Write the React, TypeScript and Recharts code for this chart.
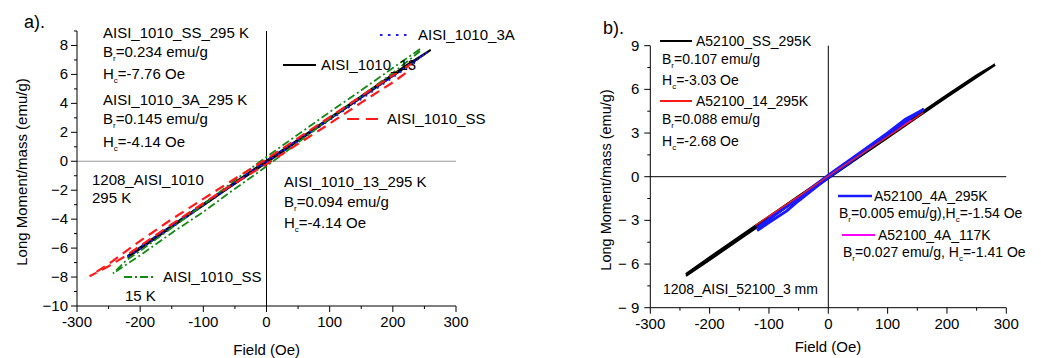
import { LineChart, Line, XAxis, YAxis, ReferenceLine } from "recharts";

// ---- panel a) AISI 1010 ----
const fieldTicks = [-300, -250, -200, -150, -100, -50, 0, 50, 100, 150, 200, 250, 300];
const aTicks = [-10, -9, -8, -7, -6, -5, -4, -3, -2, -1, 0, 1, 2, 3, 4, 5, 6, 7, 8, 9];
const bTicks = [-9, -7.5, -6, -4.5, -3, -1.5, 0, 1.5, 3, 4.5, 6, 7.5, 9];

const a13Field = [-220, -180, -140, -100, -60, -20, 0, 20, 60, 100, 140, 180, 220, 260, 220, 180, 140, 100, 60, 20, 0, -20, -60, -100, -140, -180, -220];
const a13Moment = [-6.65, -5.45, -4.25, -3.05, -1.85, -0.68, -0.1, 0.5, 1.7, 2.9, 4.1, 5.3, 6.5, 7.7, 6.6, 5.4, 4.2, 3.0, 1.8, 0.62, 0.05, -0.55, -1.75, -2.95, -4.15, -5.35, -6.55];

const a3AField = [-220, -160, -100, -40, 0, 40, 100, 160, 220, 255, 220, 160, 100, 40, 0, -40, -100, -160, -220];
const a3AMoment = [-6.6, -4.85, -3.05, -1.25, -0.05, 1.1, 2.85, 4.6, 6.4, 7.55, 6.5, 4.7, 2.95, 1.2, 0.05, -1.15, -2.95, -4.75, -6.5];

const aSSField = [230, 200, 150, 100, 50, 0, -50, -100, -150, -200, -225, -250, -280, -250, -225, -200, -150, -100, -50, 0, 50, 100, 150, 200, 230];
const aSSMoment = [6.75, 5.95, 4.5, 3.05, 1.6, 0.15, -1.2, -2.6, -4.0, -5.5, -6.3, -7.1, -7.95, -7.25, -6.6, -5.85, -4.35, -2.9, -1.5, -0.2, 1.2, 2.6, 4.05, 5.45, 6.4];

const aSS15Field = [243, 200, 150, 100, 50, 0, -50, -100, -150, -200, -222, -243, -200, -150, -100, -50, 0, 50, 100, 150, 200, 243];
const aSS15Moment = [7.75, 6.45, 4.9, 3.4, 1.85, 0.3, -1.3, -3.0, -4.6, -6.2, -6.85, -7.75, -6.5, -4.95, -3.5, -1.9, -0.35, 1.3, 2.95, 4.5, 6.1, 7.6];

// ---- panel b) AISI 52100 ----
const bSSField = [-240, -200, -150, -100, -50, 0, 50, 100, 150, 200, 250, 281, 250, 200, 150, 100, 50, 0, -50, -100, -150, -200, -240];
const bSSMoment = [-6.8, -5.7, -4.3, -2.9, -1.5, -0.1, 1.3, 2.7, 4.1, 5.5, 6.85, 7.7, 6.95, 5.6, 4.2, 2.8, 1.4, 0.05, -1.35, -2.75, -4.15, -5.55, -6.7];

const b14Field = [-123, -100, -50, 0, 50, 100, 160];
const b14Moment = [-3.35, -2.7, -1.35, 0.05, 1.4, 2.75, 4.39];

const b4AField = [-120, -100, -70, -50, 0, 50, 100, 130, 161, 130, 100, 50, 0, -50, -100, -120];
const b4AMoment = [-3.69, -3.15, -2.35, -1.65, -0.05, 1.4, 2.85, 3.8, 4.63, 3.95, 3.0, 1.55, 0.1, -1.45, -2.9, -3.5];

const b117Field = [-100, -50, 0, 50, 100, 140];
const b117Moment = [-2.8, -1.4, 0.0, 1.4, 2.8, 3.9];

const zip = (h: number[], m: number[]) => h.map((v, i) => ({ h: v, m: m[i] }));

const FONT = "Arial, 'Liberation Sans', Helvetica, sans-serif";

const XTick = (props: any) => {
  const { x, y, payload } = props;
  const major = payload.value % 100 === 0;
  return (
    <g>
      <line x1={x} x2={x} y1={y} y2={y + (major ? 6 : 3)} stroke="#000" />
      {major && (
        <text x={x} y={y + 21} textAnchor="middle" fontSize={15} fill="#000">
          {payload.value}
        </text>
      )}
    </g>
  );
};

const YTickA = (props: any) => {
  const { x, y, payload } = props;
  const v = payload.value;
  const major = v % 2 === 0;
  return (
    <g>
      <line x1={x} x2={x - (major ? 6 : 3)} y1={y} y2={y} stroke="#000" />
      {major && (
        <text x={x - 9} y={y + 5} textAnchor="end" fontSize={15} fill="#000">
          {v < 0 ? `\u2212${-v}` : v}
        </text>
      )}
    </g>
  );
};

const YTickB = (props: any) => {
  const { x, y, payload } = props;
  const v = payload.value;
  const major = v % 3 === 0;
  return (
    <g>
      <line x1={x} x2={x - (major ? 6 : 3)} y1={y} y2={y} stroke="#000" />
      {major && (
        <text x={x - 11} y={y + 5} textAnchor="end" fontSize={15} fill="#000">
          {v < 0 ? `\u2212 ${-v}` : v}
        </text>
      )}
    </g>
  );
};

// text with subscript parts: [text, isSub]
const Txt = ({ x, y, parts, size = 14 }: { x: number; y: number; parts: [string, boolean][]; size?: number }) => {
  let prevSub = false;
  return (
    <text x={x} y={y} fontSize={size} fill="#000">
      {parts.map(([t, sub], i) => {
        const dy = sub && !prevSub ? 4 : !sub && prevSub ? -4 : 0;
        prevSub = sub;
        return (
          <tspan key={i} dy={dy} fontSize={sub ? 8 : size}>
            {t}
          </tspan>
        );
      })}
    </text>
  );
};

const A = 15; // annotation size, panel a

function PanelA() {
  return (
    <div style={{ position: "absolute", left: 0, top: 0, width: 520, height: 358 }}>
      <LineChart width={520} height={358} margin={{ top: 31, right: 64, bottom: 22, left: 37 }}>
        <XAxis type="number" dataKey="h" domain={[-300, 300]} ticks={fieldTicks} interval={0} tickSize={0} tickMargin={0} tick={<XTick />} stroke="#000" allowDataOverflow />
        <YAxis type="number" dataKey="m" width={40} domain={[-10, 9]} ticks={aTicks} interval={0} tickSize={0} tickMargin={0} tick={<YTickA />} stroke="#000" allowDataOverflow />
        <ReferenceLine y={0} stroke="#9a9a9a" />
        <ReferenceLine x={0} stroke="#000" />
        <Line data={zip(a13Field, a13Moment)} dataKey="m" stroke="#000" strokeWidth={2} dot={false} isAnimationActive={false} />
        <Line data={zip(a3AField, a3AMoment)} dataKey="m" stroke="#1a1aff" strokeWidth={2} strokeDasharray="2 5" dot={false} isAnimationActive={false} />
        <Line data={zip(aSS15Field, aSS15Moment)} dataKey="m" stroke="#138a13" strokeWidth={1.8} strokeDasharray="8 3 2 3" dot={false} isAnimationActive={false} />
        <Line data={zip(aSSField, aSSMoment)} dataKey="m" stroke="#ff1a1a" strokeWidth={2.2} strokeDasharray="10 6" dot={false} isAnimationActive={false} />
      </LineChart>
      <svg width={520} height={358} style={{ position: "absolute", left: 0, top: 0 }}>
        <text x={24} y={28} fontSize={18}>a).</text>
        <text x={21} y={172} fontSize={15} textAnchor="middle" dominantBaseline="central" transform="rotate(-90 21 172)">
          Long Moment/mass (emu/g)
        </text>
        <text x={266.7} y={355} fontSize={15} textAnchor="middle">Field (Oe)</text>
        <Txt size={A} x={103} y={38} parts={[["AISI_1010_SS_295 K", false]]} />
        <Txt size={A} x={103} y={57} parts={[["B", false], ["r", true], ["=0.234 emu/g", false]]} />
        <Txt size={A} x={103} y={79} parts={[["H", false], ["c", true], ["=-7.76 Oe", false]]} />
        <Txt size={A} x={103} y={105} parts={[["AISI_1010_3A_295 K", false]]} />
        <Txt size={A} x={103} y={124} parts={[["B", false], ["r", true], ["=0.145 emu/g", false]]} />
        <Txt size={A} x={103} y={147} parts={[["H", false], ["c", true], ["=-4.14 Oe", false]]} />
        <Txt size={A} x={92} y={185} parts={[["1208_AISI_1010", false]]} />
        <Txt size={A} x={92} y={203} parts={[["295 K", false]]} />
        <Txt size={A} x={284} y={187} parts={[["AISI_1010_13_295 K", false]]} />
        <Txt size={A} x={284} y={207} parts={[["B", false], ["r", true], ["=0.094 emu/g", false]]} />
        <Txt size={A} x={284} y={228} parts={[["H", false], ["c", true], ["=-4.14 Oe", false]]} />
        <line x1={124} x2={156} y1={277} y2={277} stroke="#138a13" strokeWidth={1.8} strokeDasharray="8 3 2 3" />
        <Txt size={A} x={163} y={282} parts={[["AISI_1010_SS", false]]} />
        <Txt size={A} x={125} y={301} parts={[["15 K", false]]} />
        <line x1={380} x2={410} y1={35} y2={35} stroke="#1a1aff" strokeWidth={2} strokeDasharray="2.5 5.5" />
        <Txt size={A} x={418} y={40} parts={[["AISI_1010_3A", false]]} />
        <line x1={283} x2={316} y1={65} y2={65} stroke="#000" strokeWidth={2} />
        <Txt size={A} x={321} y={70} parts={[["AISI_1010_13", false]]} />
        <line x1={347} x2={379} y1={119} y2={119} stroke="#ff1a1a" strokeWidth={2.2} strokeDasharray="12 7" />
        <Txt size={A} x={387} y={124} parts={[["AISI_1010_SS", false]]} />
      </svg>
    </div>
  );
}

function PanelB() {
  return (
    <div style={{ position: "absolute", left: 520, top: 0, width: 521, height: 358 }}>
      <LineChart width={521} height={358} margin={{ top: 45.7, right: 34.7, bottom: 20.3, left: 90.3 }}>
        <XAxis type="number" dataKey="h" domain={[-300, 300]} ticks={fieldTicks} interval={0} tickSize={0} tickMargin={0} tick={<XTick />} stroke="#000" allowDataOverflow />
        <YAxis type="number" dataKey="m" width={40} domain={[-9, 9]} ticks={bTicks} interval={0} tickSize={0} tickMargin={0} tick={<YTickB />} stroke="#000" allowDataOverflow />
        <ReferenceLine y={0} stroke="#000" />
        <ReferenceLine x={0} stroke="#000" />
        <Line data={zip(bSSField, bSSMoment)} dataKey="m" stroke="#000" strokeWidth={2.5} dot={false} isAnimationActive={false} />
        <Line data={zip(b117Field, b117Moment)} dataKey="m" stroke="#ff00ff" strokeWidth={1.5} dot={false} isAnimationActive={false} />
        <Line data={zip(b4AField, b4AMoment)} dataKey="m" stroke="#1a1aff" strokeWidth={3} dot={false} isAnimationActive={false} />
        <Line data={zip(b14Field, b14Moment)} dataKey="m" stroke="#ff1a1a" strokeWidth={1.3} dot={false} isAnimationActive={false} />
      </LineChart>
      <svg width={521} height={358} style={{ position: "absolute", left: 0, top: 0 }}>
        <text x={83} y={34} fontSize={18}>b).</text>
        <text x={86} y={180} fontSize={14.5} textAnchor="middle" dominantBaseline="central" transform="rotate(-90 86 180)">
          Long Moment/mass (emu/g)
        </text>
        <text x={308} y={352} fontSize={15} textAnchor="middle">Field (Oe)</text>
        <line x1={140} x2={172} y1={41} y2={41} stroke="#000" strokeWidth={2} />
        <Txt x={176} y={46} parts={[["A52100_SS_295K", false]]} />
        <Txt x={142} y={64} parts={[["B", false], ["r", true], ["=0.107 emu/g", false]]} />
        <Txt x={142} y={85} parts={[["H", false], ["c", true], ["=-3.03 Oe", false]]} />
        <line x1={140} x2={172} y1={101} y2={101} stroke="#ff1a1a" strokeWidth={2} />
        <Txt x={176} y={106} parts={[["A52100_14_295K", false]]} />
        <Txt x={142} y={124} parts={[["B", false], ["r", true], ["=0.088 emu/g", false]]} />
        <Txt x={142} y={146} parts={[["H", false], ["c", true], ["=-2.68 Oe", false]]} />
        <line x1={318} x2={352} y1={196} y2={196} stroke="#1a1aff" strokeWidth={2.5} />
        <Txt x={354} y={201} parts={[["A52100_4A_295K", false]]} />
        <Txt x={319} y={218} parts={[["B", false], ["r", true], ["=0.005 emu/g),H", false], ["c", true], ["=-1.54 Oe", false]]} />
        <line x1={322} x2={355} y1={235} y2={235} stroke="#ff00ff" strokeWidth={2} />
        <Txt x={358} y={240} parts={[["A52100_4A_117K", false]]} />
        <Txt x={323} y={257} parts={[["B", false], ["r", true], ["=0.027 emu/g, H", false], ["c", true], ["=-1.41 Oe", false]]} />
        <Txt x={143} y={294} parts={[["1208_AISI_52100_3 mm", false]]} />
      </svg>
    </div>
  );
}

export default function App() {
  return (
    <div style={{ position: "absolute", left: 0, top: 0, width: 1041, height: 358, background: "#fff", fontFamily: FONT }}>
      <PanelA />
      <PanelB />
    </div>
  );
}
